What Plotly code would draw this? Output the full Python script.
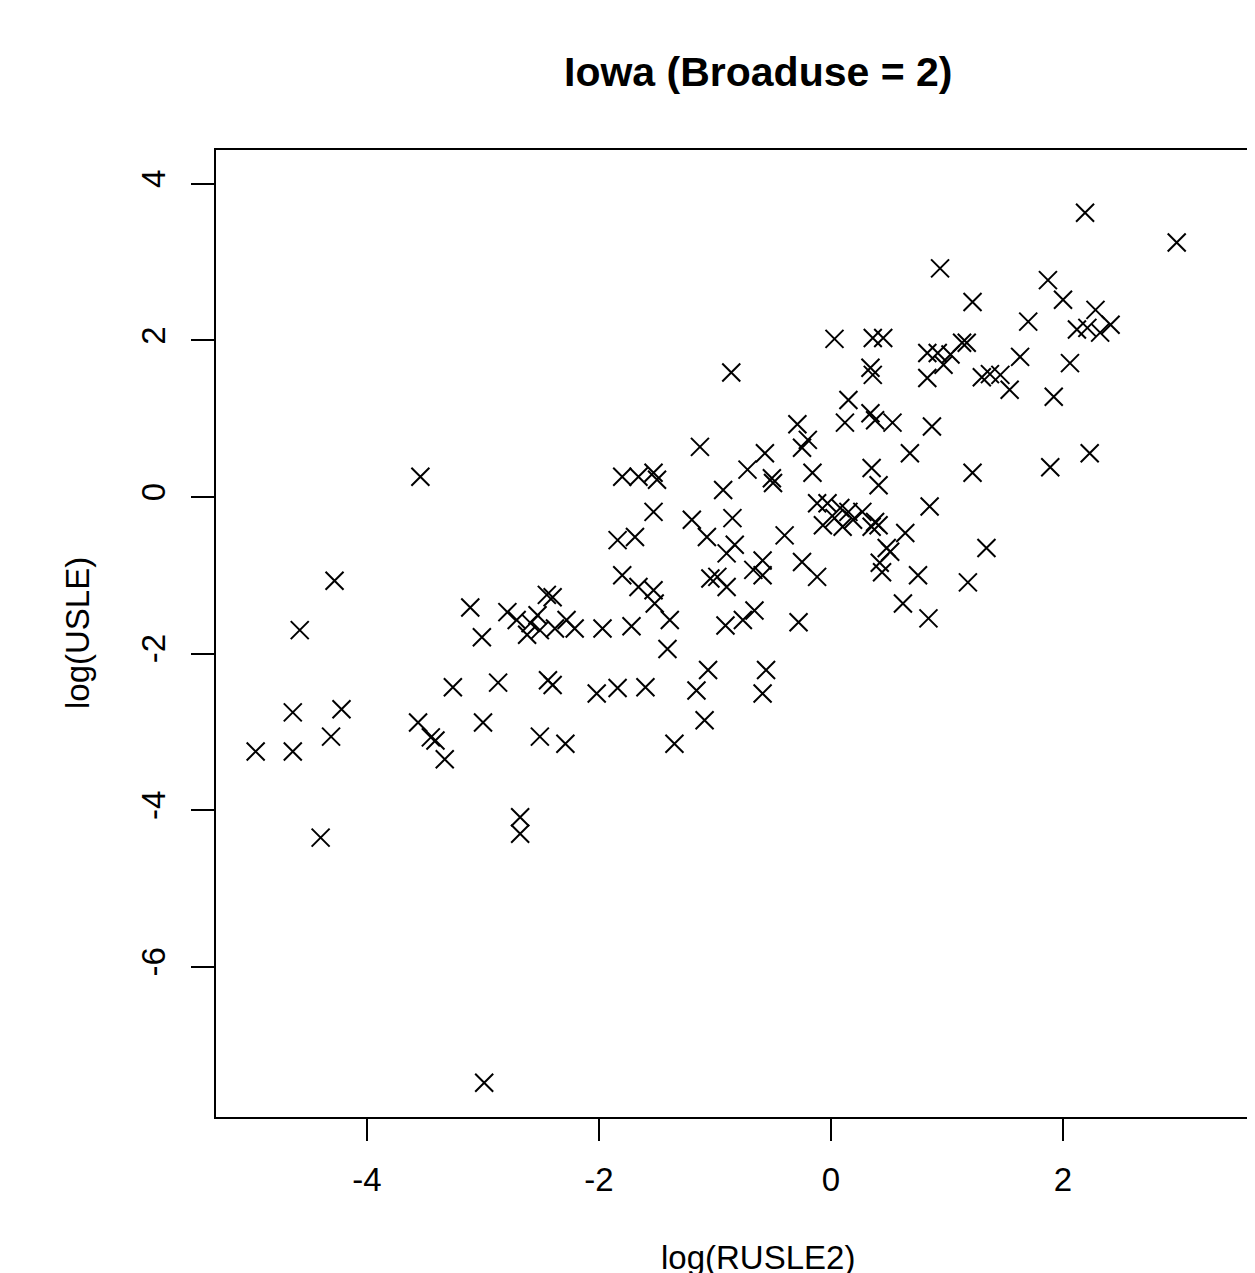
import plotly.graph_objects as go

# log(RUSLE2) values
log_rusle2 = [
    -4.96, -4.64, -4.64, -4.58, -4.40, -4.31, -4.28, -4.22, -3.56, -3.54,
    -3.45, -3.41, -3.33, -3.26, -3.11, -2.99, -3.01, -3.00, -2.87, -2.79,
    -2.71, -2.62, -2.59, -2.53, -2.51, -2.45, -2.40, -2.38, -2.28, -2.21,
    -2.51, -2.44, -2.40, -2.29, -2.68, -2.68, -2.02, -1.97, -1.84, -1.84,
    -1.80, -1.80, -1.66, -1.53, -1.50, -1.72, -1.69, -1.66, -1.60, -1.53,
    -1.53, -1.52, -1.41, -1.39, -1.35, -1.20, -1.16, -1.13, -1.09, -1.07,
    -1.06, -1.04, -0.98, -0.93, -0.91, -0.90, -0.90, -0.86, -0.85, -0.83,
    -0.76, -0.72, -0.67, -0.66, -0.59, -0.59, -0.59, -0.57, -0.56, -0.51,
    -0.50, -0.40, -0.29, -0.28, -0.25, -0.20, -0.16, -0.25, -0.12, -0.12,
    -0.03, 0.08, -0.07, 0.10, 0.19, 0.27, 0.38, 0.35, 0.41, 0.03,
    0.15, 0.03, 0.12, 0.15, 0.34, 0.38, 0.35, 0.41, 0.34, 0.36,
    0.36, 0.45, 0.42, 0.44, 0.51, 0.48, 0.53, 0.62, 0.64, 0.68,
    0.75, 0.84, 0.85, 0.87, 0.83, 0.92, 1.03, 1.13, 1.17, 0.97,
    0.83, 0.94, 1.18, 1.22, 1.22, 1.30, 1.37, 1.46, 1.34, 1.54,
    1.63, 1.70, 1.87, 1.89, 1.92, 2.00, 2.06, 2.12, 2.21, 2.23,
    2.28, 2.32, 2.41, 2.19, 2.98, 3.72,
]

# log(USLE) values
log_usle = [
    -3.25, -2.75, -3.25, -1.70, -4.35, -3.06, -1.07, -2.71, -2.88, 0.26,
    -3.07, -3.11, -3.35, -2.43, -1.41, -7.48, -1.79, -2.88, -2.37, -1.47,
    -1.57, -1.76, -1.61, -1.51, -1.70, -1.25, -1.28, -1.68, -1.57, -1.68,
    -3.06, -2.34, -2.40, -3.15, -4.09, -4.30, -2.51, -1.68, -2.44, -0.55,
    0.26, -1.00, 0.26, 0.31, 0.22, -1.65, -0.51, -1.15, -2.43, -0.19,
    -1.19, -1.36, -1.94, -1.57, -3.15, -0.29, -2.47, 0.64, -2.85, -0.51,
    -2.21, -1.04, -1.02, 0.09, -1.64, -0.72, -1.15, 1.59, -0.27, -0.61,
    -1.57, 0.35, -0.93, -1.45, -0.81, -1.00, -2.51, 0.56, -2.21, 0.24,
    0.18, -0.49, 0.93, -1.60, 0.63, 0.73, 0.31, -0.83, -1.02, -0.08,
    -0.08, -0.14, -0.36, -0.38, -0.29, -0.19, -0.32, -0.38, -0.36, -0.27,
    -0.19, 2.02, 0.95, 1.24, 1.07, 0.98, 0.37, 0.15, 1.65, 1.56,
    2.03, 2.03, -0.84, -0.96, -0.70, -0.65, 0.95, -1.36, -0.46, 0.56,
    -1.00, -1.55, -0.12, 0.90, 1.84, 1.84, 1.82, 1.97, 1.97, 1.69,
    1.52, 2.92, -1.09, 2.49, 0.31, 1.53, 1.57, 1.56, -0.65, 1.37,
    1.79, 2.24, 2.77, 0.38, 1.28, 2.52, 1.71, 2.14, 2.16, 0.56,
    2.39, 2.10, 2.20, 3.63, 3.25, 4.02,
]

x_ticks = [-4, -2, 0, 2, 4]
y_ticks = [-6, -4, -2, 0, 2, 4]

title_text = "Iowa (Broaduse = 2)"
x_label = "log(RUSLE2)"
y_label = "log(USLE)"

FONT = "Liberation Sans, Arial, sans-serif"

fig = go.Figure(
    go.Scatter(
        x=log_rusle2,
        y=log_usle,
        mode="markers",
        marker=dict(symbol="x-thin-open", size=18, color="black",
                    line=dict(color="black", width=2)),
        hoverinfo="x+y",
    )
)

# page body has an 8px margin, so the figure is placed 8px in from the top-left
fig.update_layout(
    width=1247,
    height=1265,
    margin=dict(l=208, r=0, t=142, b=156, autoexpand=False),
    paper_bgcolor="white",
    plot_bgcolor="white",
    showlegend=False,
    font=dict(family=FONT, size=33, color="black"),
    xaxis=dict(
        range=[-5.302, 3.655],
        tickvals=x_ticks,
        ticktext=[str(v) for v in x_ticks],
        showgrid=False,
        zeroline=False,
        showline=True,
        linecolor="black",
        linewidth=2,
        mirror=True,
        ticks="outside",
        ticklen=22,
        tickwidth=2,
        tickcolor="black",
        ticklabelstandoff=10,
        tickfont=dict(size=33, family=FONT, color="black"),
        automargin=False,
    ),
    yaxis=dict(
        range=[-7.918, 4.432],
        tickvals=y_ticks,
        ticktext=[str(v) for v in y_ticks],
        showgrid=False,
        zeroline=False,
        showline=True,
        linecolor="black",
        linewidth=2,
        mirror=False,
        ticks="outside",
        ticklen=23,
        tickwidth=2,
        tickcolor="black",
        tickangle=-90,
        ticklabelstandoff=13,
        tickfont=dict(size=33, family=FONT, color="black"),
        automargin=False,
    ),
    annotations=[
        dict(text="<b>" + title_text + "</b>", xref="paper", yref="paper",
             x=0.5217, y=1.0806, xanchor="center", yanchor="middle",
             showarrow=False, font=dict(size=41, family=FONT, color="black")),
        dict(text=x_label, xref="paper", yref="paper",
             x=0.5217, y=-0.1458, xanchor="center", yanchor="middle",
             showarrow=False, font=dict(size=33, family=FONT, color="black")),
        dict(text=y_label, xref="paper", yref="paper",
             x=-0.1338, y=0.5005, xanchor="center", yanchor="middle",
             textangle=-90,
             showarrow=False, font=dict(size=33, family=FONT, color="black")),
    ],
)

fig.write_html("out.html")
